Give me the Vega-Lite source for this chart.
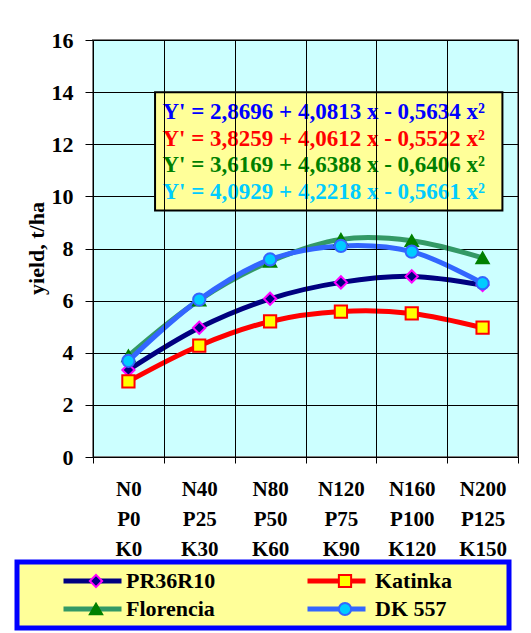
{
  "$schema": "https://vega.github.io/schema/vega-lite/v6.json",
  "width": 425,
  "height": 417,
  "autosize": "none",
  "padding": {"left": 93, "top": 40, "right": 13, "bottom": 176},
  "background": "white",
  "config": {
    "font": "Liberation Serif",
    "view": {"fill": "#CCFFFF", "stroke": "#808080", "strokeWidth": 2}
  },
  "datasets": {
    "yields": [
      {"dose": "N0 P0 K0", "variety": "PR36R10", "yield": 3.34},
      {"dose": "N40 P25 K30", "variety": "PR36R10", "yield": 4.96},
      {"dose": "N80 P50 K60", "variety": "PR36R10", "yield": 6.07},
      {"dose": "N120 P75 K90", "variety": "PR36R10", "yield": 6.7},
      {"dose": "N160 P100 K120", "variety": "PR36R10", "yield": 6.93},
      {"dose": "N200 P125 K150", "variety": "PR36R10", "yield": 6.6},
      {"dose": "N0 P0 K0", "variety": "Katinka", "yield": 2.9},
      {"dose": "N40 P25 K30", "variety": "Katinka", "yield": 4.27},
      {"dose": "N80 P50 K60", "variety": "Katinka", "yield": 5.2},
      {"dose": "N120 P75 K90", "variety": "Katinka", "yield": 5.58},
      {"dose": "N160 P100 K120", "variety": "Katinka", "yield": 5.51},
      {"dose": "N200 P125 K150", "variety": "Katinka", "yield": 4.96},
      {"dose": "N0 P0 K0", "variety": "Florencia", "yield": 3.88},
      {"dose": "N40 P25 K30", "variety": "Florencia", "yield": 6.02},
      {"dose": "N80 P50 K60", "variety": "Florencia", "yield": 7.5},
      {"dose": "N120 P75 K90", "variety": "Florencia", "yield": 8.35},
      {"dose": "N160 P100 K120", "variety": "Florencia", "yield": 8.3},
      {"dose": "N200 P125 K150", "variety": "Florencia", "yield": 7.64},
      {"dose": "N0 P0 K0", "variety": "DK 557", "yield": 3.69},
      {"dose": "N40 P25 K30", "variety": "DK 557", "yield": 6.04},
      {"dose": "N80 P50 K60", "variety": "DK 557", "yield": 7.58},
      {"dose": "N120 P75 K90", "variety": "DK 557", "yield": 8.1},
      {"dose": "N160 P100 K120", "variety": "DK 557", "yield": 7.88},
      {"dose": "N200 P125 K150", "variety": "DK 557", "yield": 6.67}
    ],
    "equations": [
      {"variety": "PR36R10", "equation": "Y' = 2,8696 + 4,0813 x - 0,5634 x²"},
      {"variety": "Katinka", "equation": "Y' = 3,8259 + 4,0612 x - 0,5522 x²"},
      {"variety": "Florencia", "equation": "Y' = 3,6169 + 4,6388 x - 0,6406 x²"},
      {"variety": "DK 557", "equation": "Y' = 4,0929 + 4,2218 x - 0,5661 x²"}
    ]
  },
  "encoding": {
    "x": {
      "field": "dose",
      "type": "nominal",
      "scale": {
        "domain": ["N0 P0 K0", "N40 P25 K30", "N80 P50 K60", "N120 P75 K90", "N160 P100 K120", "N200 P125 K150"],
        "paddingInner": 0, "paddingOuter": 0
      },
      "axis": {
        "title": null,
        "domain": false,
        "tickBand": "extent",
        "tickSize": 6,
        "tickColor": "black",
        "grid": true,
        "gridColor": "black",
        "gridOpacity": 1,
        "labelAngle": 0,
        "labelExpr": "split(datum.label, ' ')",
        "labelFont": "Liberation Serif",
        "labelFontWeight": "bold",
        "labelFontSize": 21,
        "labelLineHeight": 30,
        "labelPadding": 15,
        "labelColor": "black"
      }
    },
    "y": {
      "type": "quantitative",
      "scale": {"domain": [0, 16], "nice": false},
      "axis": {
        "values": [0, 2, 4, 6, 8, 10, 12, 14, 16],
        "title": "yield, t/ha",
        "titleFont": "Liberation Serif",
        "titleFontSize": 22,
        "titleFontWeight": "bold",
        "titleColor": "black",
        "titleX": -45,
        "titleY": 208,
        "titleAngle": -90,
        "titleBaseline": "bottom",
        "domain": false,
        "tickSize": 8,
        "tickColor": "black",
        "grid": true,
        "gridColor": "black",
        "gridOpacity": 1,
        "labelFont": "Liberation Serif",
        "labelFontWeight": "bold",
        "labelFontSize": 22,
        "labelPadding": 12,
        "labelColor": "black"
      }
    }
  },
  "layer": [
    {
      "data": {"values": [{"note": "equation box"}]},
      "mark": {"type": "rect", "fill": "#333333", "xOffset": 3, "yOffset": 3},
      "encoding": {
        "x": {"datum": "N0 P0 K0", "bandPosition": 0.876},
        "x2": {"datum": "N200 P125 K150", "bandPosition": 0.78},
        "y": {"datum": 14.0},
        "y2": {"datum": 9.46}
      }
    },
    {
      "data": {"values": [{"note": "equation box"}]},
      "mark": {"type": "rect", "fill": "#FFFF99", "stroke": "#000000", "strokeWidth": 2},
      "encoding": {
        "x": {"datum": "N0 P0 K0", "bandPosition": 0.876},
        "x2": {"datum": "N200 P125 K150", "bandPosition": 0.78},
        "y": {"datum": 14.0},
        "y2": {"datum": 9.46}
      }
    },
    {
      "data": {"name": "equations"},
      "transform": [{"filter": "datum.variety === 'PR36R10'"}],
      "mark": {"type": "text", "align": "left", "baseline": "middle", "font": "Liberation Serif", "fontWeight": "bold", "fontSize": 23, "color": "#0000FF"},
      "encoding": {
        "x": {"datum": "N0 P0 K0", "bandPosition": 0.98},
        "y": {"datum": 13.23},
        "text": {"field": "equation"}
      }
    },
    {
      "data": {"name": "equations"},
      "transform": [{"filter": "datum.variety === 'Katinka'"}],
      "mark": {"type": "text", "align": "left", "baseline": "middle", "font": "Liberation Serif", "fontWeight": "bold", "fontSize": 23, "color": "#FF0000"},
      "encoding": {
        "x": {"datum": "N0 P0 K0", "bandPosition": 0.98},
        "y": {"datum": 12.22},
        "text": {"field": "equation"}
      }
    },
    {
      "data": {"name": "equations"},
      "transform": [{"filter": "datum.variety === 'Florencia'"}],
      "mark": {"type": "text", "align": "left", "baseline": "middle", "font": "Liberation Serif", "fontWeight": "bold", "fontSize": 23, "color": "#008000"},
      "encoding": {
        "x": {"datum": "N0 P0 K0", "bandPosition": 0.98},
        "y": {"datum": 11.2},
        "text": {"field": "equation"}
      }
    },
    {
      "data": {"name": "equations"},
      "transform": [{"filter": "datum.variety === 'DK 557'"}],
      "mark": {"type": "text", "align": "left", "baseline": "middle", "font": "Liberation Serif", "fontWeight": "bold", "fontSize": 23, "color": "#00CCFF"},
      "encoding": {
        "x": {"datum": "N0 P0 K0", "bandPosition": 0.98},
        "y": {"datum": 10.15},
        "text": {"field": "equation"}
      }
    },
    {
      "data": {"name": "yields"},
      "mark": {"type": "line", "interpolate": "catmull-rom", "strokeWidth": 5, "strokeCap": "round"},
      "encoding": {
        "y": {"field": "yield", "type": "quantitative"},
        "color": {
          "field": "variety",
          "type": "nominal",
          "sort": ["PR36R10", "Florencia", "Katinka", "DK 557"],
          "scale": {"range": ["#000080", "#339966", "#FF0000", "#3366FF"]},
          "legend": {
            "orient": "none", "legendX": -76, "legendY": 522, "columns": 2, "title": null,
            "symbolType": "stroke", "symbolSize": 3364, "symbolStrokeWidth": 5, "clipHeight": 22,
            "labelFont": "Liberation Serif", "labelFontWeight": "bold", "labelFontSize": 22, "labelColor": "black", "labelOpacity": 0,
            "padding": 8, "rowPadding": 6, "columnPadding": -2, "symbolOffset": 36, "labelOffset": 55,
            "fillColor": "#FFFF99", "strokeColor": "#0000FF",
            "encode": {"legend": {"update": {"strokeWidth": {"value": 5}}}}
          }
        }
      }
    },
    {
      "data": {"name": "yields"},
      "mark": {"type": "point", "filled": true, "size": 150, "strokeWidth": 2, "opacity": 1},
      "encoding": {
        "y": {"field": "yield", "type": "quantitative"},
        "fill": {
          "field": "variety", "type": "nominal",
          "scale": {"domain": ["PR36R10", "Florencia", "Katinka", "DK 557"], "range": ["#000080", "#008000", "#FFFF00", "#00CCFF"]},
          "legend": {
            "orient": "none", "legendX": -76, "legendY": 522, "columns": 2, "title": null,
            "symbolSize": 150, "symbolStrokeWidth": 2, "clipHeight": 22,
            "labelFont": "Liberation Serif", "labelFontWeight": "bold", "labelFontSize": 22, "labelColor": "black",
            "padding": 8, "rowPadding": 6, "columnPadding": 58, "symbolOffset": 60, "labelOffset": 19
          }
        },
        "stroke": {
          "field": "variety", "type": "nominal",
          "scale": {"domain": ["PR36R10", "Florencia", "Katinka", "DK 557"], "range": ["#FF00FF", "#008000", "#FF0000", "#3366FF"]},
          "legend": {
            "orient": "none", "legendX": -76, "legendY": 522, "columns": 2, "title": null,
            "symbolSize": 150, "symbolStrokeWidth": 2, "clipHeight": 22,
            "labelFont": "Liberation Serif", "labelFontWeight": "bold", "labelFontSize": 22, "labelColor": "black",
            "padding": 8, "rowPadding": 6, "columnPadding": 58, "symbolOffset": 60, "labelOffset": 19
          }
        },
        "shape": {
          "field": "variety", "type": "nominal",
          "scale": {"domain": ["PR36R10", "Florencia", "Katinka", "DK 557"], "range": ["diamond", "triangle-up", "square", "circle"]},
          "legend": {
            "orient": "none", "legendX": -76, "legendY": 522, "columns": 2, "title": null,
            "symbolSize": 150, "symbolStrokeWidth": 2, "clipHeight": 22,
            "labelFont": "Liberation Serif", "labelFontWeight": "bold", "labelFontSize": 22, "labelColor": "black",
            "padding": 8, "rowPadding": 6, "columnPadding": 58, "symbolOffset": 60, "labelOffset": 19
          }
        }
      }
    }
  ]
}
